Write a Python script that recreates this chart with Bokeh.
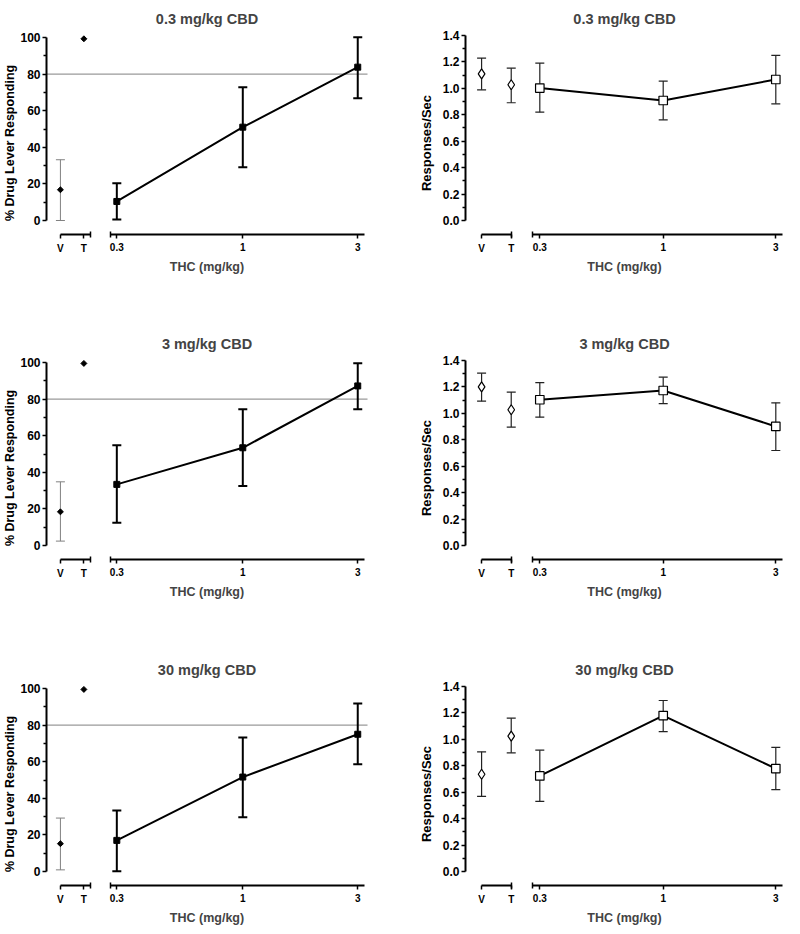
import numpy as np
from bokeh.plotting import figure
from bokeh.models import (Range1d, LogAxis, FixedTicker, Whisker, ColumnDataSource,
                          Span, TeeHead, PrintfTickFormatter, Title)
from bokeh.layouts import row, column
from bokeh.embed import file_html
from bokeh.resources import INLINE

# ---------------- data ----------------
panel_titles = ["0.3 mg/kg CBD", "3 mg/kg CBD", "30 mg/kg CBD"]
thc_doses = [0.3, 1.0, 3.0]
thc_tick_labels = ["0.3", "1", "3"]
ctrl_labels = ["V", "T"]
x_label = "THC (mg/kg)"
pct_label = "% Drug Lever Responding"
rate_label = "Responses/Sec"
criterion_pct = 80

pct_ticks = [0, 20, 40, 60, 80, 100]
pct_minor_ticks = [10, 30, 50, 70, 90]
rate_ticks = [0.0, 0.2, 0.4, 0.6, 0.8, 1.0, 1.2, 1.4]
rate_minor_ticks = [0.1, 0.3, 0.5, 0.7, 0.9, 1.1, 1.3]

# % drug lever responding (rows: 0.3, 3, 30 mg/kg CBD)
pct_veh = [16.8, 18.4, 15.2]
pct_veh_lo = [0.0, 2.4, 0.9]
pct_veh_hi = [33.2, 34.8, 29.2]
pct_thc_ctrl = [99.3, 99.5, 99.5]
pct_mean = [[10.4, 51.0, 83.8], [33.4, 53.4, 87.2], [17.0, 51.6, 75.0]]
pct_lo = [[0.5, 29.1, 66.8], [12.4, 32.5, 74.4], [0.2, 29.7, 58.6]]
pct_hi = [[20.4, 72.8, 100.2], [54.8, 74.5, 99.6], [33.4, 73.2, 91.8]]

# response rate (responses/sec)
rate_veh = [1.11, 1.20, 0.736]
rate_veh_lo = [0.989, 1.092, 0.569]
rate_veh_hi = [1.229, 1.304, 0.906]
rate_thc = [1.027, 1.027, 1.025]
rate_thc_lo = [0.891, 0.896, 0.898]
rate_thc_hi = [1.153, 1.161, 1.160]
rate_mean = [[1.002, 0.908, 1.067], [1.103, 1.173, 0.901], [0.723, 1.18, 0.779]]
rate_lo = [[0.82, 0.762, 0.883], [0.971, 1.073, 0.719], [0.530, 1.058, 0.619]]
rate_hi = [[1.191, 1.055, 1.249], [1.232, 1.274, 1.080], [0.918, 1.294, 0.939]]

# ---------------- layout constants ----------------
FONT = "Liberation Sans"
ROW_H = [325, 326, 275]
FIG_W = 392
FRAME_TOP = 30
FRAME_H = 225

LAYOUT = {
    "pct": dict(xr=(0.1532, 3.293), yr=(-19.13, 103.83), axis_y=-7.65, mbl=37, mbr=25,
                vpos=0.175, tpos=0.219, vt_cap=0.233, main_start=0.282, main_end=3.19,
                ybounds=(0, 100), ylabel_size="12.5px"),
    "rate": dict(xr=(0.1453, 3.234), yr=(-0.265, 1.4379), axis_y=-0.106, mbl=73, mbr=1,
                 vpos=0.170, tpos=0.227, vt_cap=0.227, main_start=0.279, main_end=3.20,
                 ybounds=(0, 1.4), ylabel_size="13px"),
}


def style_axis(ax, label_size):
    ax.axis_line_width = 2
    ax.axis_line_color = "black"
    ax.major_tick_line_width = 1.5
    ax.major_tick_line_color = "black"
    ax.minor_tick_line_width = 1.5
    ax.minor_tick_line_color = "black"
    ax.major_tick_in = 0
    ax.major_tick_out = 4
    ax.major_label_text_font = FONT
    ax.major_label_text_font_style = "bold"
    ax.major_label_text_font_size = label_size
    ax.major_label_text_color = "black"
    ax.axis_label_text_font = FONT
    ax.axis_label_text_font_style = "bold"
    ax.axis_label_text_font_size = "12.5px"
    ax.axis_label_text_color = "black"


def x_segment_axis(L, ticks, labels, cap, bounds):
    ax = LogAxis(fixed_location=L["axis_y"],
                 ticker=FixedTicker(ticks=ticks, minor_ticks=[cap]),
                 bounds=bounds,
                 major_label_overrides={float(t): s for t, s in zip(ticks, labels)})
    style_axis(ax, "10px")
    ax.minor_tick_in = 3
    ax.minor_tick_out = 3
    ax.major_label_standoff = 5
    return ax


def make_fig(kind, i, h):
    L = LAYOUT[kind]
    p = figure(width=FIG_W, height=h, x_axis_type="log", x_axis_location=None,
               x_range=Range1d(*L["xr"]), y_range=Range1d(*L["yr"]),
               output_backend="svg", toolbar_location=None,
               min_border_left=L["mbl"], min_border_right=L["mbr"],
               min_border_top=FRAME_TOP, min_border_bottom=h - FRAME_TOP - FRAME_H,
               title=panel_titles[i])
    p.outline_line_color = None
    p.grid.visible = False
    p.background_fill_color = "white"
    p.border_fill_color = "white"
    p.title.text_font = FONT
    p.title.text_font_style = "bold"
    p.title.text_font_size = "14.5px"
    p.title.align = "center"
    p.title.standoff = 7

    # broken x axis: V/T segment and THC dose segment
    p.add_layout(x_segment_axis(L, [L["vpos"], L["tpos"]], ctrl_labels, L["vt_cap"],
                                (L["vpos"], L["vt_cap"])), "below")
    p.add_layout(x_segment_axis(L, thc_doses, thc_tick_labels, L["main_start"],
                                (L["main_start"], L["main_end"])), "below")
    p.add_layout(Title(text=x_label, align="center", text_font=FONT, text_font_style="bold",
                       text_font_size="12.5px", standoff=4), "below")

    ya = p.yaxis[0]
    style_axis(ya, "12px")
    ya.axis_label_text_font_size = L["ylabel_size"]
    ya.bounds = L["ybounds"]
    ya.minor_tick_in = 0
    ya.minor_tick_out = 3
    ya.major_label_standoff = 2

    if kind == "pct":
        ya.ticker = FixedTicker(ticks=pct_ticks, minor_ticks=pct_minor_ticks)
        ya.axis_label = pct_label
        ya.axis_label_standoff = 0
        span = Span(location=criterion_pct, dimension="width", line_color="black",
                    line_width=1, line_dash="1 1", level="underlay")
        p.add_layout(span)

        veh_src = ColumnDataSource(dict(x=[L["vpos"]], y=[pct_veh[i]],
                                        lo=[pct_veh_lo[i]], hi=[pct_veh_hi[i]]))
        w = Whisker(source=veh_src, base="x", upper="hi", lower="lo", dimension="height",
                    line_color="#808080", line_width=1, level="underlay",
                    upper_head=TeeHead(size=9, line_color="#808080", line_width=1),
                    lower_head=TeeHead(size=9, line_color="#808080", line_width=1))
        p.add_layout(w)
        dose_src = ColumnDataSource(dict(x=thc_doses, y=pct_mean[i], lo=pct_lo[i], hi=pct_hi[i]))
        w2 = Whisker(source=dose_src, base="x", upper="hi", lower="lo", dimension="height",
                     line_color="black", line_width=2, level="underlay",
                     upper_head=TeeHead(size=9, line_color="black", line_width=2),
                     lower_head=TeeHead(size=9, line_color="black", line_width=2))
        p.add_layout(w2)
        p.line(x="x", y="y", source=dose_src, line_color="black", line_width=2)
        p.scatter(x=[L["vpos"], L["tpos"]], y=[pct_veh[i], pct_thc_ctrl[i]], marker="square",
                  angle=np.pi / 4, size=4.2, fill_color="black", line_color="black", line_width=1)
        p.scatter(x="x", y="y", source=dose_src, marker="square", size=6,
                  fill_color="black", line_color="black", line_width=1)
    else:
        ya.ticker = FixedTicker(ticks=rate_ticks, minor_ticks=rate_minor_ticks)
        ya.formatter = PrintfTickFormatter(format="%.1f")
        ya.axis_label = rate_label
        ya.axis_label_standoff = 6
        ctrl_src = ColumnDataSource(dict(x=[L["vpos"], L["tpos"]], y=[rate_veh[i], rate_thc[i]],
                                         lo=[rate_veh_lo[i], rate_thc_lo[i]],
                                         hi=[rate_veh_hi[i], rate_thc_hi[i]]))
        dose_src = ColumnDataSource(dict(x=thc_doses, y=rate_mean[i], lo=rate_lo[i], hi=rate_hi[i]))
        for src in (ctrl_src, dose_src):
            w = Whisker(source=src, base="x", upper="hi", lower="lo", dimension="height",
                        line_color="#222222", line_width=1.2, level="underlay",
                        upper_head=TeeHead(size=9, line_color="#222222", line_width=1.2),
                        lower_head=TeeHead(size=9, line_color="#222222", line_width=1.2))
            p.add_layout(w)
        p.line(x="x", y="y", source=dose_src, line_color="black", line_width=2)
        p.scatter(x="x", y="y", source=ctrl_src, marker="diamond", size=10,
                  fill_color="white", line_color="black", line_width=1.2)
        p.scatter(x="x", y="y", source=dose_src, marker="square", size=8.5,
                  fill_color="white", line_color="black", line_width=1.2)
    return p


rows = []
for i in range(3):
    rows.append(row(make_fig("pct", i, ROW_H[i]), make_fig("rate", i, ROW_H[i])))
layout = column(*rows)

open("out.html", "w").write(file_html(layout, INLINE))
